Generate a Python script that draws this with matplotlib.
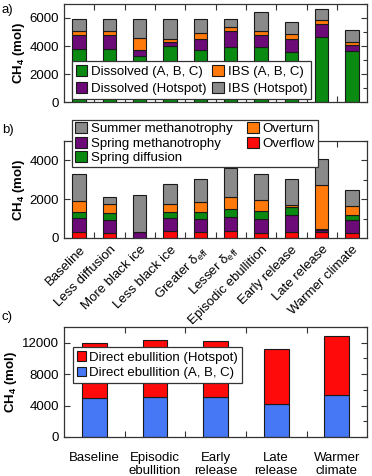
import matplotlib
matplotlib.use("Agg")
import matplotlib.pyplot as plt
import numpy as np
from matplotlib.patches import Patch

plt.rcParams['font.family'] = ['Liberation Sans', 'DejaVu Sans']
plt.rcParams['font.size'] = 9
plt.rcParams['mathtext.fontset'] = 'custom'
plt.rcParams['mathtext.rm'] = 'Liberation Sans'
plt.rcParams['mathtext.it'] = 'Liberation Sans:italic'
plt.rcParams['mathtext.bf'] = 'Liberation Sans:bold'

# ---- data ----
scenarios = ['Baseline', 'Less diffusion', 'More black ice', 'Less black ice',
             'Greater δ$_{\\mathrm{eff}}$', 'Lesser δ$_{\\mathrm{eff}}$',
             'Episodic ebullition', 'Early release', 'Late release', 'Warmer climate']

# panel a (segment sizes)
dissolved_abc = [3810, 3810, 3290, 4000, 3720, 3930, 3930, 3600, 4630, 3620]
dissolved_hot = [940, 940, 400, 280, 750, 1150, 820, 870, 900, 430]
ibs_abc = [310, 310, 850, 190, 470, 280, 310, 420, 310, 230]
ibs_hot = [890, 890, 1410, 1480, 1010, 590, 1360, 830, 820, 850]

# panel b
overflow = [330, 270, 0, 380, 300, 380, 270, 330, 330, 240]
spring_meth = [690, 660, 330, 670, 680, 680, 700, 880, 100, 680]
spring_diff = [340, 340, 0, 270, 350, 420, 410, 390, 40, 290]
overturn = [560, 460, 0, 410, 500, 630, 560, 90, 2250, 440]
summer_meth = [1360, 400, 1880, 1040, 1200, 1500, 1370, 1330, 1340, 840]

# panel c
scen_c = ['Baseline', 'Episodic\nebullition', 'Early\nrelease', 'Late\nrelease', 'Warmer\nclimate']
ebul_abc = [4950, 5050, 5150, 4220, 5280]
ebul_hot = [7000, 7330, 7060, 6980, 7520]

GREEN = '#0b8a12'
PURPLE = '#6c0a78'
ORANGE = '#ff7a0a'
GRAY = '#8a8a8a'
RED = '#ff0a0a'
BLUE = '#4677f5'
EDGE = '#1a1a1a'

fig = plt.figure(figsize=(3.72, 4.76), dpi=100)
axa = fig.add_axes([0.172, 0.785, 0.815, 0.207])
axb = fig.add_axes([0.172, 0.500, 0.815, 0.204])
axc = fig.add_axes([0.172, 0.082, 0.815, 0.231])


def stack(ax, series, colors, width):
    x = np.arange(len(series[0]))
    bottom = np.zeros(len(x))
    for vals, c in zip(series, colors):
        vals = np.array(vals, dtype=float)
        ax.bar(x, vals, width, bottom=bottom, color=c, edgecolor=EDGE, linewidth=0.8)
        bottom += vals
    return x


def style(ax, n, ymax, major, minor):
    ax.set_xlim(-0.5, n - 0.5)
    ax.set_ylim(0, ymax)
    ax.set_yticks(np.arange(0, ymax + 1, major))
    ax.set_yticks(np.arange(0, ymax + 1, minor), minor=True)
    ax.set_xticks(np.arange(n))
    ax.set_xticks(np.arange(n - 1) + 0.5, minor=True)
    ax.tick_params(axis='both', which='both', direction='in', top=True, right=True,
                   width=0.8, color='#333333', labelsize=9.5)
    ax.tick_params(axis='x', which='major', length=0)
    ax.tick_params(axis='y', which='major', length=4, labelright=False)
    ax.tick_params(axis='y', which='minor', length=3, left=False)
    ax.tick_params(axis='x', which='minor', length=4)
    for s in ax.spines.values():
        s.set_linewidth(0.9)
        s.set_color('#333333')
    ax.set_ylabel('CH$_\\mathbf{4}$ (mol)', fontweight='bold', fontsize=9.5, labelpad=2)


# a)
stack(axa, [dissolved_abc, dissolved_hot, ibs_abc, ibs_hot], [GREEN, PURPLE, ORANGE, GRAY], 0.44)
style(axa, 10, 7000, 2000, 1000)
axa.set_xticklabels([])
ha = [Patch(facecolor=c, edgecolor=EDGE, linewidth=0.8) for c in [GREEN, PURPLE, ORANGE, GRAY]]
la = axa.legend(ha, ['Dissolved (A, B, C)', 'Dissolved (Hotspot)', 'IBS (A, B, C)', 'IBS (Hotspot)'],
                ncol=2, loc='lower left', bbox_to_anchor=(0.025, 0.03), fontsize=9.5,
                handlelength=0.9, handleheight=0.9, handletextpad=0.3, columnspacing=0.4,
                labelspacing=0.35, borderpad=0.3, borderaxespad=0, fancybox=False,
                framealpha=1, edgecolor='#333333')
la.get_frame().set_linewidth(0.9)

# b)
stack(axb, [overflow, spring_meth, spring_diff, overturn, summer_meth],
      [RED, PURPLE, GREEN, ORANGE, GRAY], 0.44)
style(axb, 10, 5000, 2000, 1000)
axb.set_xticklabels(scenarios, rotation=45, ha='right', rotation_mode='anchor', fontsize=9.5)
axb.tick_params(axis='x', which='major', pad=4)
hb = [Patch(facecolor=c, edgecolor=EDGE, linewidth=0.8) for c in [GRAY, PURPLE, GREEN, ORANGE, RED]]
lb = axb.legend(hb, ['Summer methanotrophy', 'Spring methanotrophy', 'Spring diffusion', 'Overturn', 'Overflow'],
                ncol=2, loc='upper left', bbox_to_anchor=(0.027, 1.22), fontsize=9.5,
                handlelength=0.9, handleheight=0.9, handletextpad=0.3, columnspacing=1.1,
                labelspacing=0.12, borderpad=0.2, borderaxespad=0, fancybox=False,
                framealpha=1, edgecolor='#333333')
lb.get_frame().set_linewidth(0.9)

# c)
stack(axc, [ebul_abc, ebul_hot], [BLUE, RED], 0.41)
style(axc, 5, 14000, 4000, 2000)
axc.set_xticklabels(scen_c, fontsize=9.5, linespacing=1.05)
axc.tick_params(axis='x', which='major', pad=11)
hc = [Patch(facecolor=c, edgecolor=EDGE, linewidth=0.8) for c in [RED, BLUE]]
lc = axc.legend(hc, ['Direct ebullition (Hotspot)', 'Direct ebullition (A, B, C)'],
                loc='upper left', bbox_to_anchor=(0.03, 0.815), fontsize=9.5,
                handlelength=0.7, handleheight=0.7, handletextpad=0.2,
                labelspacing=0.25, borderpad=0.3, borderaxespad=0, fancybox=False,
                framealpha=1, edgecolor='#333333')
lc.get_frame().set_linewidth(0.9)

fig.text(0.005, 0.978, 'a)', fontsize=9.5, va='center')
fig.text(0.005, 0.727, 'b)', fontsize=9.5, va='center')
fig.text(0.005, 0.334, 'c)', fontsize=9.5, va='center')

fig.savefig('out.png', dpi=100)
